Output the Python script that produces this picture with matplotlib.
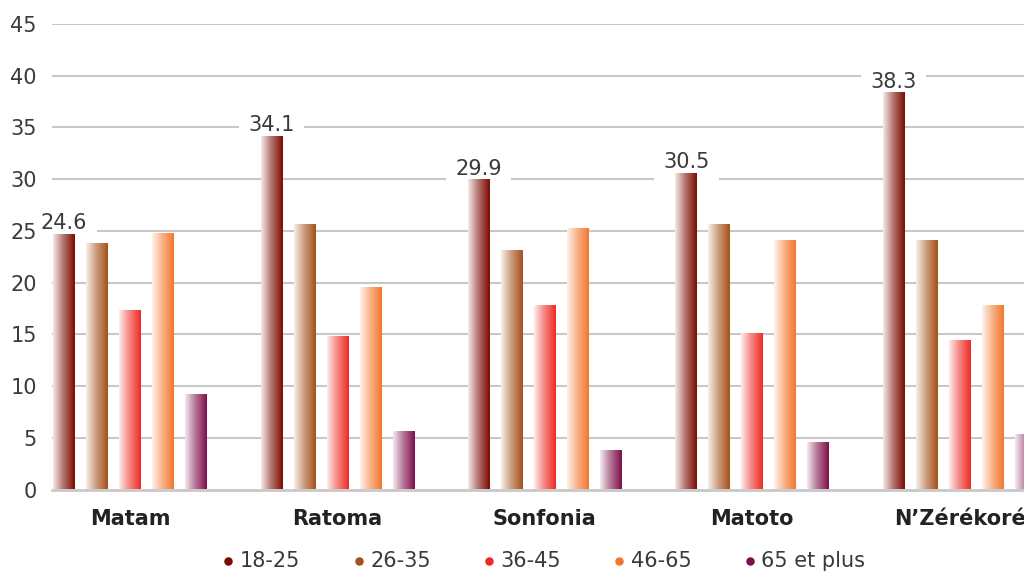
import numpy as np
import matplotlib
matplotlib.use("Agg")
import matplotlib.pyplot as plt
from matplotlib.colors import LinearSegmentedColormap, to_rgb

plt.rcParams["font.family"] = ["DejaVu Sans"]

districts = ["Matam", "Ratoma", "Sonfonia", "Matoto", "N\u2019Zérékoré"]
age_groups = ["18-25", "26-35", "36-45", "46-65", "65 et plus"]

share_18_25 = [24.6, 34.1, 29.9, 30.5, 38.3]
share_26_35 = [23.7, 25.6, 23.1, 25.6, 24.0]
share_36_45 = [17.3, 14.7, 17.7, 15.0, 14.4]
share_46_65 = [24.7, 19.5, 25.2, 24.0, 17.7]
share_65_plus = [9.1, 5.6, 3.7, 4.5, 5.3]

series = [share_18_25, share_26_35, share_36_45, share_46_65, share_65_plus]
colors = ["#7a0a00", "#a4511a", "#ee2a24", "#f2772e", "#7e0e4a"]

text_color = "#3a3a3a"
grid_color = "#c8c8c8"

fig = plt.figure(figsize=(10.24, 5.71), dpi=100)
ax = fig.add_axes([52 / 1024, 1 - 489.5 / 571, 972 / 1024, (489.5 - 24) / 571])

x = np.arange(len(districts))
step = 0.159
width = 0.104
gradient = np.linspace(0, 1, 256).reshape(1, -1)

ax.set_xlim(-0.376, 4.311)
ax.set_ylim(0, 45)
yticks = np.arange(0, 46, 5)
ax.set_yticks(yticks)

# gridlines drawn by hand so the value boxes can sit on top of them
ax.hlines(yticks[1:], *ax.get_xlim(), color=grid_color, linewidth=1.5, zorder=0)

for i, (values, color) in enumerate(zip(series, colors)):
    offset = (i - 2) * step
    bars = ax.bar(x + offset, values, width=width, color="none", edgecolor="none", zorder=3)
    base = np.array(to_rgb(color))
    light = base + (1 - base) * 0.92
    mid = base + (1 - base) * 0.45
    cmap = LinearSegmentedColormap.from_list(
        f"grad{i}", [(0, light), (0.45, mid), (1, base)]
    )
    for bar in bars:
        x0, y0 = bar.get_x(), bar.get_y()
        ax.imshow(
            gradient,
            extent=[x0, x0 + bar.get_width(), y0, y0 + bar.get_height()],
            aspect="auto",
            cmap=cmap,
            zorder=3,
            interpolation="bilinear",
        )
    ax.scatter([], [], color=color, s=26, label=age_groups[i])

    if i == 0:
        for bar, v in zip(bars, values):
            ax.annotate(
                f"{v:.1f}",
                (bar.get_x() + bar.get_width() / 2, v),
                xytext=(0, 4),
                textcoords="offset points",
                ha="center",
                va="baseline",
                fontsize=15,
                color=text_color,
                bbox=dict(boxstyle="square,pad=0.45", fc="white", ec="none"),
                zorder=2,
            )

ax.set_xlim(-0.376, 4.311)
for side in ["top", "right", "left"]:
    ax.spines[side].set_visible(False)
ax.spines["bottom"].set_color(grid_color)
ax.spines["bottom"].set_linewidth(2)
ax.spines["bottom"].set_zorder(5)
ax.yaxis.set_zorder(10)

ax.set_xticks(x)
ax.set_xticklabels(districts, fontsize=15, fontweight="bold", color="#222222")
ax.tick_params(axis="x", length=0, pad=14)
ax.tick_params(axis="y", length=0, pad=11, labelsize=15, labelcolor=text_color)

ax.legend(
    loc="lower center",
    bbox_to_anchor=(0.506, -0.215),
    ncol=5,
    frameon=False,
    fontsize=15,
    handlelength=0.6,
    handletextpad=0.25,
    columnspacing=2.5,
    labelcolor=text_color,
)

fig.savefig("out.png", dpi=100)
